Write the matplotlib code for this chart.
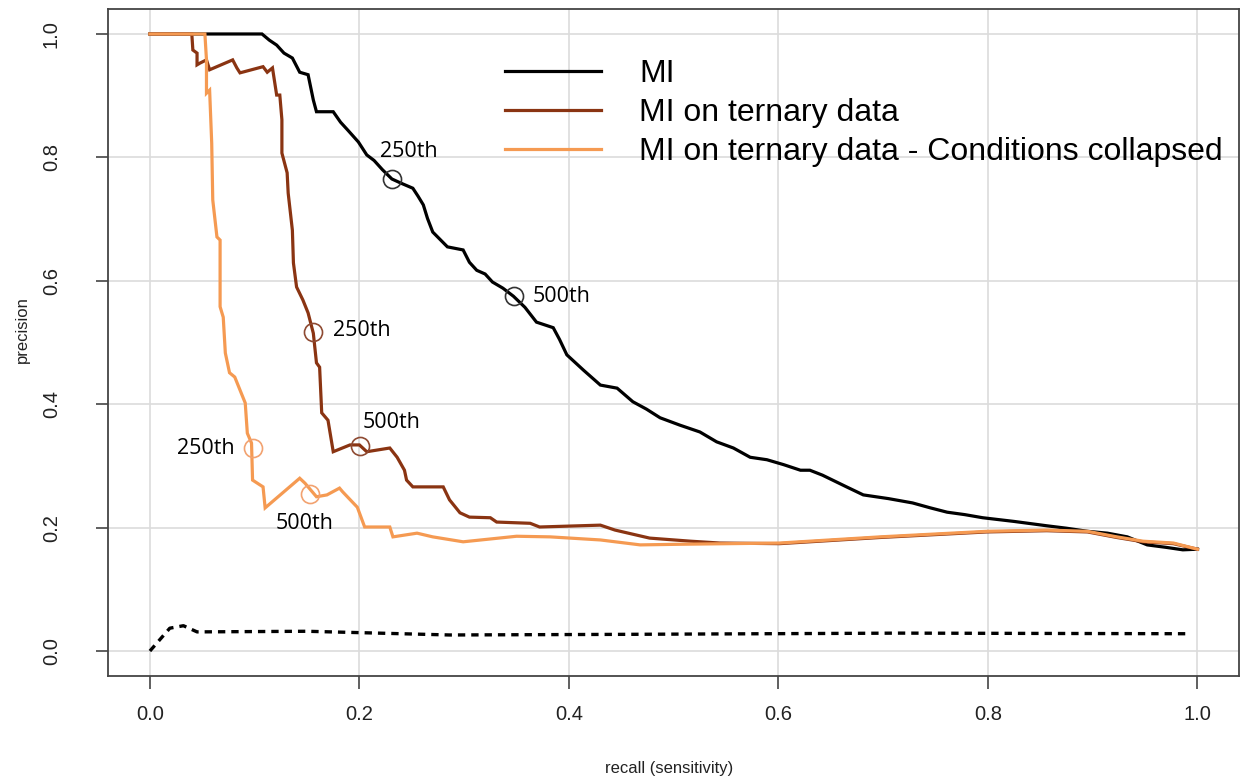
import matplotlib as mpl; mpl.use("Agg")
import matplotlib.pyplot as plt

# Precision-recall curves
# ------------------------------------------------------------------------------
mi_recall = [0.0, 0.107, 0.114, 0.121, 0.128, 0.136, 0.143, 0.151, 0.156, 0.159,
             0.175, 0.182, 0.189, 0.199, 0.207, 0.214, 0.222, 0.231, 0.240, 0.251,
             0.256, 0.261, 0.265, 0.270, 0.284, 0.299, 0.305, 0.312, 0.320, 0.327,
             0.337, 0.347, 0.358, 0.369, 0.385, 0.391, 0.398, 0.414, 0.430, 0.446,
             0.461, 0.474, 0.487, 0.506, 0.525, 0.541, 0.557, 0.573, 0.589, 0.605,
             0.621, 0.630, 0.642, 0.665, 0.681, 0.705, 0.728, 0.745, 0.761, 0.778,
             0.795, 0.825, 0.856, 0.875, 0.895, 0.914, 0.933, 0.952, 0.970, 0.986, 1.0]
mi_precision = [1.0, 1.0, 0.990, 0.982, 0.969, 0.961, 0.938, 0.934, 0.893, 0.874,
                0.874, 0.857, 0.844, 0.825, 0.804, 0.795, 0.780, 0.765, 0.758, 0.750,
                0.737, 0.723, 0.701, 0.679, 0.655, 0.650, 0.630, 0.617, 0.611, 0.598,
                0.588, 0.575, 0.557, 0.533, 0.524, 0.505, 0.480, 0.455, 0.431, 0.426,
                0.404, 0.392, 0.378, 0.366, 0.355, 0.339, 0.329, 0.314, 0.310, 0.302,
                0.293, 0.293, 0.285, 0.266, 0.253, 0.247, 0.240, 0.232, 0.225, 0.221,
                0.216, 0.210, 0.203, 0.199, 0.194, 0.191, 0.185, 0.172, 0.168, 0.164, 0.165]

ter_recall = [0.0, 0.040, 0.041, 0.045, 0.045, 0.048, 0.054, 0.057, 0.079, 0.083,
              0.086, 0.108, 0.112, 0.117, 0.121, 0.124, 0.126, 0.126, 0.131, 0.132,
              0.136, 0.137, 0.140, 0.146, 0.151, 0.156, 0.159, 0.162, 0.164, 0.170,
              0.175, 0.191, 0.200, 0.207, 0.229, 0.236, 0.243, 0.245, 0.251, 0.280,
              0.286, 0.296, 0.305, 0.325, 0.331, 0.363, 0.372, 0.430, 0.444, 0.477,
              0.516, 0.544, 0.601, 0.697, 0.799, 0.856, 0.895, 0.923, 0.948, 0.977, 1.0]
ter_precision = [1.0, 1.0, 0.974, 0.969, 0.950, 0.953, 0.958, 0.942, 0.958, 0.945,
                 0.937, 0.947, 0.938, 0.945, 0.901, 0.901, 0.861, 0.807, 0.775, 0.742,
                 0.682, 0.629, 0.590, 0.569, 0.548, 0.515, 0.467, 0.460, 0.386, 0.374,
                 0.323, 0.334, 0.334, 0.323, 0.329, 0.314, 0.293, 0.277, 0.266, 0.266,
                 0.245, 0.224, 0.217, 0.216, 0.209, 0.207, 0.201, 0.204, 0.196, 0.183,
                 0.178, 0.175, 0.174, 0.184, 0.193, 0.195, 0.193, 0.184, 0.177, 0.174, 0.165]

col_recall = [0.0, 0.0525, 0.054, 0.054, 0.057, 0.059, 0.060, 0.064, 0.067, 0.067,
              0.070, 0.072, 0.076, 0.081, 0.086, 0.091, 0.093, 0.097, 0.098, 0.108,
              0.110, 0.143, 0.148, 0.159, 0.169, 0.181, 0.184, 0.198, 0.205, 0.229,
              0.232, 0.255, 0.270, 0.299, 0.350, 0.382, 0.430, 0.468, 0.506, 0.601,
              0.697, 0.799, 0.856, 0.895, 0.923, 0.948, 0.977, 1.0]
col_precision = [1.0, 1.0, 0.958, 0.904, 0.909, 0.823, 0.731, 0.671, 0.666, 0.558,
                 0.541, 0.483, 0.451, 0.444, 0.423, 0.402, 0.353, 0.337, 0.277, 0.266,
                 0.232, 0.280, 0.272, 0.250, 0.253, 0.264, 0.258, 0.233, 0.201, 0.201,
                 0.185, 0.191, 0.185, 0.177, 0.186, 0.185, 0.180, 0.172, 0.173, 0.175,
                 0.185, 0.194, 0.196, 0.194, 0.185, 0.178, 0.175, 0.165]

# random classifier baseline
base_recall = [0.0, 0.019, 0.032, 0.045, 0.150, 0.286, 0.450, 0.716, 0.993]
base_precision = [0.0, 0.037, 0.041, 0.031, 0.032, 0.026, 0.027, 0.029, 0.028]

# rank cut-offs (250th, 500th) marked on each curve
mi_marks = ([0.231, 0.3475], [0.765, 0.575])
ter_marks = ([0.156, 0.2005], [0.517, 0.332])
col_marks = ([0.098, 0.153], [0.329, 0.254])

labels = ["MI", "MI on ternary data", "MI on ternary data - Conditions collapsed"]
ticks = [0.0, 0.2, 0.4, 0.6, 0.8, 1.0]

BLACK = "#000000"
BROWN = "#8a3412"
ORANGE = "#f59a52"

plt.rcParams["font.family"] = ["Liberation Sans", "DejaVu Sans"]

fig = plt.figure(figsize=(12.4, 7.78), dpi=100)
ax = fig.add_axes([108 / 1240, 102.3 / 778, 1131.4 / 1240, 666.4 / 778])
ax.set_xlim(-0.04, 1.04)
ax.set_ylim(-0.04, 1.04)

ax.grid(True, color="#dcdcdc", lw=1.2)
ax.set_axisbelow(True)

lw = 2.3
l1, = ax.plot(mi_recall, mi_precision, color=BLACK, lw=lw, solid_joinstyle="miter")
l2, = ax.plot(ter_recall, ter_precision, color=BROWN, lw=lw, solid_joinstyle="miter")
l3, = ax.plot(col_recall, col_precision, color=ORANGE, lw=lw, solid_joinstyle="miter")
ax.plot(base_recall, base_precision, color=BLACK, lw=2.4, ls=(0, (2.2, 1.8)))

for (xs, ys), c in [(mi_marks, "#333333"), (ter_marks, "#8e4a32"), (col_marks, "#f2a270")]:
    ax.plot(xs, ys, ls="none", marker="o", ms=13, mfc="none", mec=c, mew=1.2)

afont = dict(family="Open Sans", fontsize=15.5, va="center")
ax.text(0.2196, 0.809, "250th", ha="left", **afont)
ax.text(0.365, 0.575, "500th", ha="left", **afont)
ax.text(0.175, 0.520, "250th", ha="left", **afont)
ax.text(0.203, 0.371, "500th", ha="left", **afont)
ax.text(0.081, 0.329, "250th", ha="right", **afont)
ax.text(0.120, 0.206, "500th", ha="left", **afont)

ax.legend([l1, l2, l3], labels, loc="upper left", frameon=False, fontsize=23,
          bbox_to_anchor=(505 / 1240, 1 - 59 / 778), bbox_transform=fig.transFigure,
          borderpad=0, borderaxespad=0, handlelength=3.0, handletextpad=1.2,
          labelspacing=0.28)

ax.set_xticks(ticks)
ax.set_yticks(ticks)
ax.set_xticklabels([f"{t:.1f}" for t in ticks])
ax.set_yticklabels([f"{t:.1f}" for t in ticks], rotation=90, va="center")
ax.tick_params(length=9, width=1.2, color="#444444", labelsize=14.5,
               labelcolor="#222222")
ax.tick_params(axis="x", pad=12)
ax.tick_params(axis="y", pad=25)
for s in ax.spines.values():
    s.set_color("#444444")
    s.set_linewidth(1.3)

fig.text(669 / 1240, 1 - 768 / 778, "recall (sensitivity)", ha="center", va="center",
         fontsize=12, color="#222222")
fig.text(22 / 1240, 1 - 330 / 778, "precision", ha="center", va="center",
         rotation=90, fontsize=12, color="#222222")

fig.savefig("out.png", dpi=100)
